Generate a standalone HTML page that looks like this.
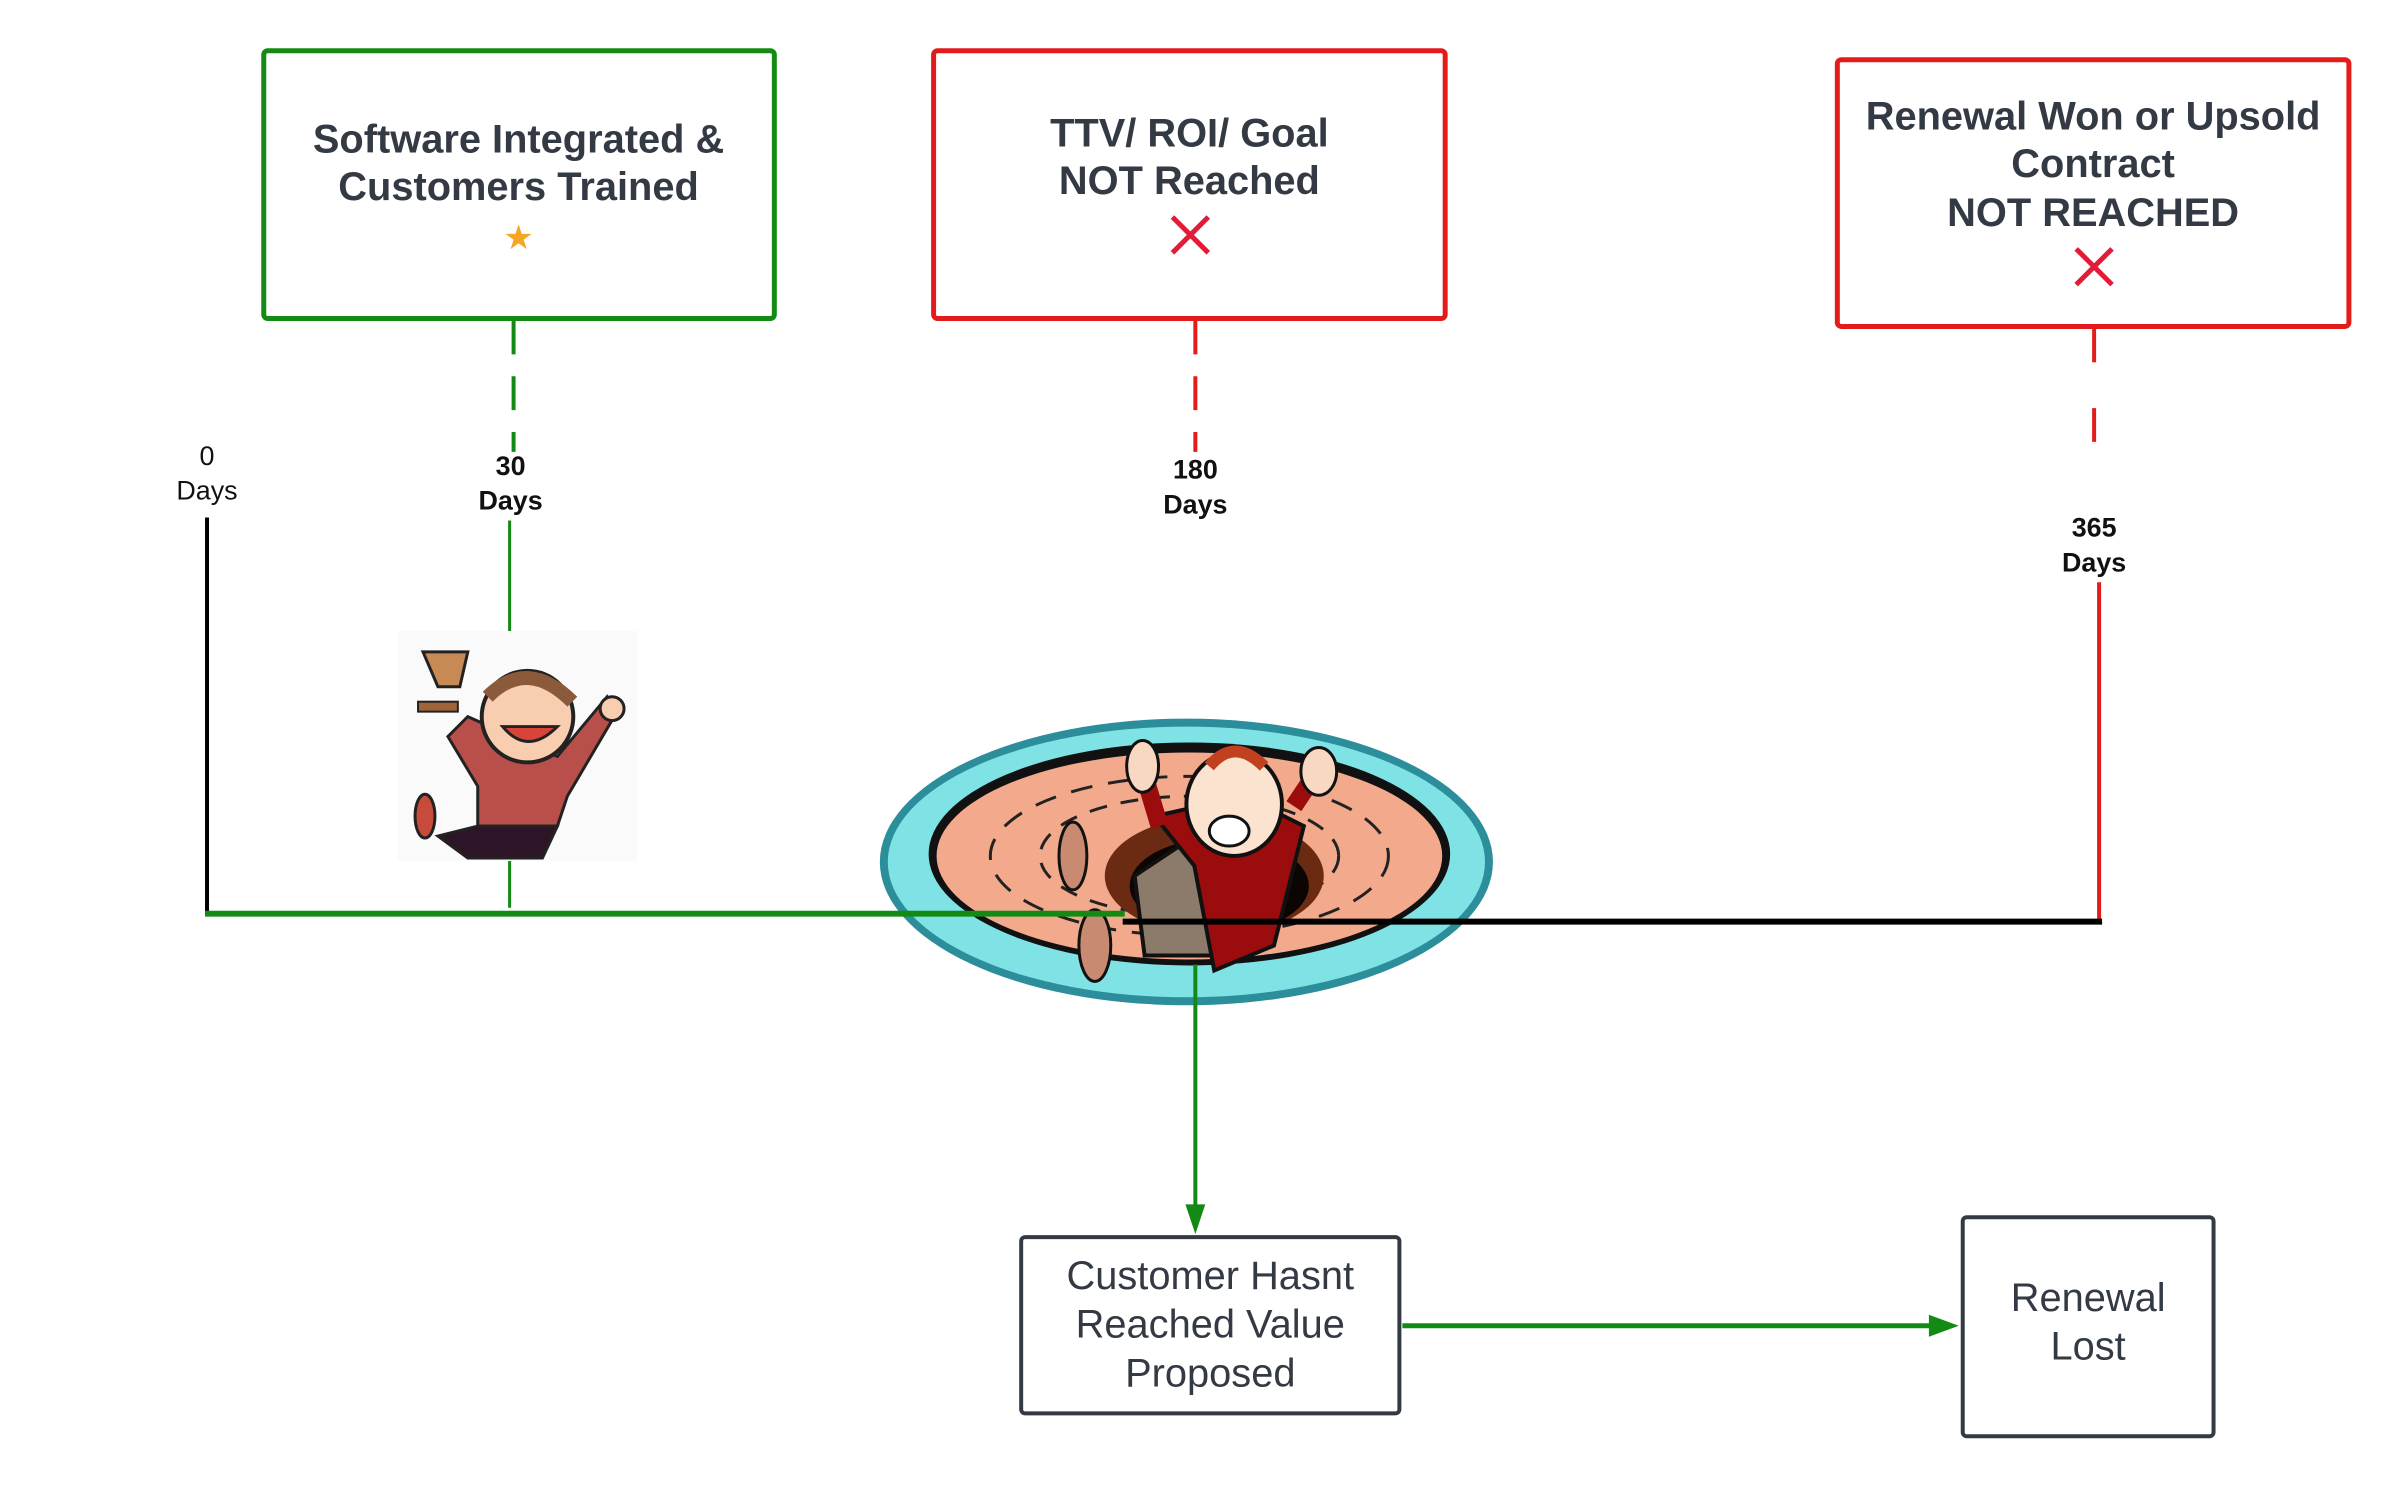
<!DOCTYPE html>
<html><head><meta charset="utf-8"><style>
html,body{margin:0;padding:0;background:#fff;}
svg{display:block;}
text{font-family:"Liberation Sans",Arial,sans-serif;fill:#333a44;}
.b{font-weight:bold;}
</style></head><body>
<svg width="2400" height="1487" viewBox="0 0 2400 1487" xmlns="http://www.w3.org/2000/svg">
<g transform="scale(0.9953)">
<!-- Top boxes -->
<rect x="265" y="51" width="513" height="269" rx="4" fill="#fff" stroke="#138a13" stroke-width="5"/>
<text class="b" x="521" y="153" font-size="40" text-anchor="middle">Software Integrated  &amp;</text>
<text class="b" x="521" y="201" font-size="40" text-anchor="middle">Customers Trained</text>
<text x="521" y="250" font-size="34" text-anchor="middle" style="fill:#f5a623">★</text>

<rect x="938" y="51" width="514" height="269" rx="4" fill="#fff" stroke="#e31b1b" stroke-width="5"/>
<text class="b" x="1195" y="147" font-size="40" text-anchor="middle">TTV/ ROI/ Goal</text>
<text class="b" x="1195" y="195" font-size="40" text-anchor="middle">NOT Reached</text>
<path d="M1178 218 L1214 254 M1214 218 L1178 254" stroke="#e31b36" stroke-width="5"/>

<rect x="1846" y="60" width="514" height="268" rx="4" fill="#fff" stroke="#e31b1b" stroke-width="5"/>
<text class="b" x="2103" y="130" font-size="40" text-anchor="middle">Renewal Won or Upsold</text>
<text class="b" x="2103" y="178" font-size="40" text-anchor="middle">Contract</text>
<text class="b" x="2103" y="227" font-size="40" text-anchor="middle">NOT REACHED</text>
<path d="M2086 250 L2122 286 M2122 250 L2086 286" stroke="#e31b36" stroke-width="5"/>

<!-- dashed connectors -->
<line x1="516" y1="322" x2="516" y2="454" stroke="#138a13" stroke-width="4" stroke-dasharray="34,22"/>
<line x1="1201" y1="322" x2="1201" y2="454" stroke="#e31b1b" stroke-width="4" stroke-dasharray="34,22"/>
<line x1="2104" y1="330" x2="2104" y2="488" stroke="#e31b1b" stroke-width="4" stroke-dasharray="34,46"/>

<!-- labels -->
<text x="208" y="467" font-size="27" text-anchor="middle" style="fill:#111">0</text>
<text x="208" y="502" font-size="27" text-anchor="middle" style="fill:#111">Days</text>
<text class="b" x="513" y="477" font-size="27" text-anchor="middle" style="fill:#111">30</text>
<text class="b" x="513" y="512" font-size="27" text-anchor="middle" style="fill:#111">Days</text>
<text class="b" x="1201" y="481" font-size="27" text-anchor="middle" style="fill:#111">180</text>
<text class="b" x="1201" y="516" font-size="27" text-anchor="middle" style="fill:#111">Days</text>
<text class="b" x="2104" y="539" font-size="27" text-anchor="middle" style="fill:#111">365</text>
<text class="b" x="2104" y="574" font-size="27" text-anchor="middle" style="fill:#111">Days</text>

<!-- solid verticals -->
<line x1="208" y1="520" x2="208" y2="920" stroke="#000" stroke-width="4"/>
<line x1="512" y1="523" x2="512" y2="640" stroke="#138a13" stroke-width="3"/>
<line x1="512" y1="865" x2="512" y2="912" stroke="#138a13" stroke-width="3"/>
<line x1="2109" y1="585" x2="2109" y2="928" stroke="#e31b1b" stroke-width="4"/>

<!-- hole -->
<g>
<ellipse cx="1192" cy="866" rx="308" ry="144" fill="#2c8e9a"/>
<ellipse cx="1192" cy="866" rx="300" ry="136" fill="#7fe3e6"/>
<ellipse cx="1195" cy="858" rx="262" ry="112" fill="#111"/>
<ellipse cx="1195" cy="860" rx="254" ry="104" fill="#f2a98c"/>
<ellipse cx="1195" cy="860" rx="200" ry="80" fill="none" stroke="#222" stroke-width="3" stroke-dasharray="22,16"/>
<ellipse cx="1195" cy="860" rx="150" ry="60" fill="none" stroke="#222" stroke-width="3" stroke-dasharray="18,14"/>
<ellipse cx="1220" cy="880" rx="110" ry="60" fill="#6b2a12"/>
<ellipse cx="1225" cy="890" rx="90" ry="48" fill="#0b0504"/>
<path d="M1140 880 L1200 840 L1260 870 L1250 960 L1150 960 Z" fill="#8c7b6a" stroke="#111" stroke-width="4"/>
<path d="M1160 820 L1250 800 L1310 830 L1280 950 L1220 975 L1200 870 Z" fill="#9b0d0d" stroke="#111" stroke-width="4"/>
<path d="M1150 780 L1165 830 M1300 810 L1320 780" stroke="#9b0d0d" stroke-width="18"/>
<ellipse cx="1148" cy="770" rx="16" ry="26" fill="#f8d8c0" stroke="#111" stroke-width="3"/>
<ellipse cx="1325" cy="775" rx="18" ry="24" fill="#f8d8c0" stroke="#111" stroke-width="3"/>
<ellipse cx="1240" cy="808" rx="48" ry="52" fill="#fbe3cf" stroke="#111" stroke-width="4"/>
<path d="M1215 770 Q1240 740 1270 770" stroke="#c0401f" stroke-width="12" fill="none"/>
<ellipse cx="1235" cy="835" rx="20" ry="15" fill="#fff" stroke="#111" stroke-width="3"/>
<ellipse cx="1078" cy="860" rx="14" ry="34" fill="#c98a72" stroke="#111" stroke-width="3"/>
<ellipse cx="1100" cy="950" rx="16" ry="36" fill="#c98a72" stroke="#111" stroke-width="3"/>
</g>

<!-- kid with trophy -->
<g>
<rect x="400" y="634" width="240" height="231" fill="#fafafa"/>
<path d="M425 655 L470 655 L462 690 L440 690 Z" fill="#c78a55" stroke="#222" stroke-width="3"/>
<rect x="420" y="705" width="40" height="10" fill="#a0643a" stroke="#222" stroke-width="2"/>
<path d="M450 740 L470 720 L560 760 L610 700 L620 715 L570 800 L560 830 L480 830 L480 790 Z" fill="#b84f4a" stroke="#222" stroke-width="3"/>
<path d="M480 830 L560 830 L545 862 L470 862 L440 840 Z" fill="#2d1426" stroke="#222" stroke-width="3"/>
<ellipse cx="427" cy="820" rx="10" ry="22" fill="#c84a3a" stroke="#222" stroke-width="3"/>
<circle cx="530" cy="720" r="46" fill="#f8cdb0" stroke="#222" stroke-width="4"/>
<path d="M490 700 Q530 660 575 705" stroke="#8a5a3a" stroke-width="14" fill="none"/>
<path d="M505 730 Q530 760 560 730 Z" fill="#d9443a" stroke="#222" stroke-width="3"/>
<circle cx="615" cy="712" r="12" fill="#f8cdb0" stroke="#222" stroke-width="3"/>
</g>

<!-- timeline -->
<line x1="1128" y1="926" x2="2112" y2="926" stroke="#000" stroke-width="6"/>
<line x1="206" y1="918" x2="1130" y2="918" stroke="#138a13" stroke-width="6"/>

<!-- down arrow -->
<line x1="1201" y1="969" x2="1201" y2="1215" stroke="#138a13" stroke-width="4"/>
<path d="M1191 1210 L1211 1210 L1201 1240 Z" fill="#138a13"/>

<!-- bottom boxes -->
<rect x="1026" y="1243" width="380" height="177" rx="4" fill="#fff" stroke="#333a44" stroke-width="4"/>
<text x="1216" y="1295" font-size="40" text-anchor="middle">Customer Hasnt</text>
<text x="1216" y="1344" font-size="40" text-anchor="middle">Reached Value</text>
<text x="1216" y="1393" font-size="40" text-anchor="middle">Proposed</text>

<rect x="1972" y="1223" width="252" height="220" rx="4" fill="#fff" stroke="#333a44" stroke-width="4"/>
<text x="2098" y="1317" font-size="40" text-anchor="middle">Renewal</text>
<text x="2098" y="1366" font-size="40" text-anchor="middle">Lost</text>

<line x1="1409" y1="1332" x2="1940" y2="1332" stroke="#138a13" stroke-width="5"/>
<path d="M1938 1321 L1968 1332 L1938 1343 Z" fill="#138a13"/>
</g>
</svg>
</body></html>
